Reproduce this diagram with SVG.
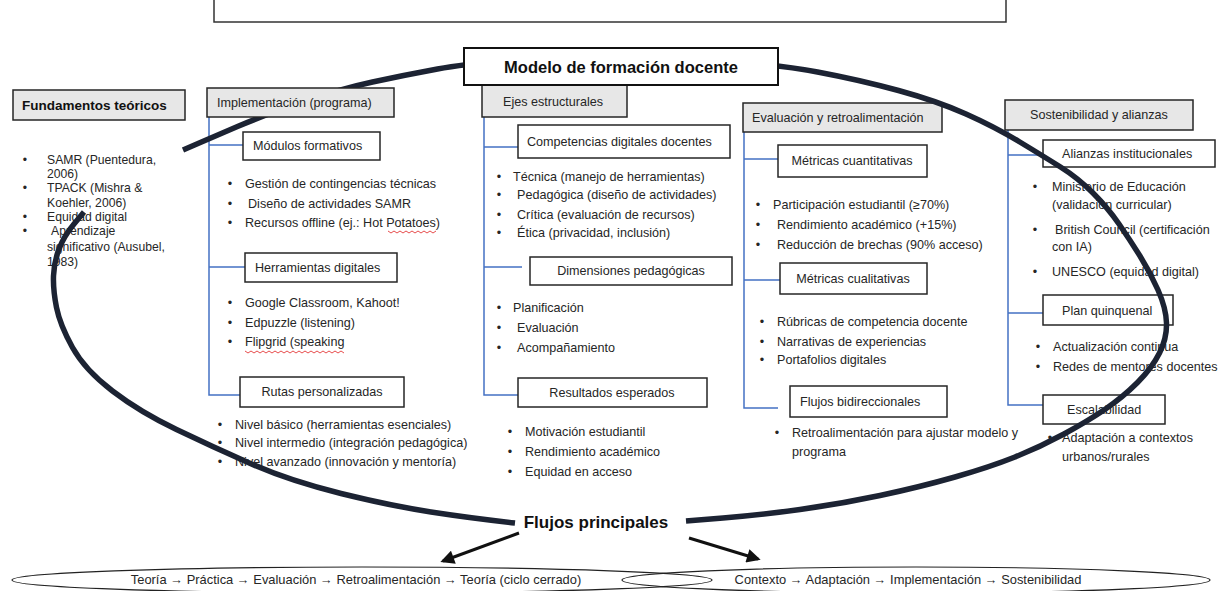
<svg xmlns="http://www.w3.org/2000/svg" width="1223" height="591" viewBox="0 0 1223 591">
<defs>
<style>
.hdr{fill:#e7e7e7;stroke:#262626;stroke-width:1.5}
.box{fill:#fff;stroke:#262626;stroke-width:1.5}
.t{font-family:"Liberation Sans",Arial,sans-serif;font-size:12.6px;fill:#262626}
.s{font-size:12.2px}
.f{font-size:12.9px}
.bt{font-family:"Liberation Sans",Arial,sans-serif;font-weight:bold;fill:#111}
.m{text-anchor:middle}
.tree{fill:none;stroke:#4472c4;stroke-width:1.5}
.cyc{fill:none;stroke:#1c2333;stroke-width:5.5}
.arr{stroke:#111;stroke-width:3;fill:none}
.ell{fill:none;stroke:#222;stroke-width:1.2}
.sq{fill:none;stroke:#e02020;stroke-width:0.8}
</style>
<marker id="ah" viewBox="0 0 10 10" refX="8" refY="5" markerWidth="5" markerHeight="4.6" orient="auto" markerUnits="strokeWidth">
<path d="M0,0 L10,5 L0,10 Z" fill="#111"/>
</marker>
</defs>
<rect width="1223" height="591" fill="#fff"/>

<g id="title-frame">
<path d="M214,0 V22 H1006 V0" fill="none" stroke="#333" stroke-width="1.5"/>
</g>

<g id="fundamentos">
<rect class="hdr" x="13" y="90" width="172" height="30"/>
<text class="bt" x="22" y="110" font-size="13.5">Fundamentos teóricos</text>
<g class="t s">
<text x="25" y="164" class="m">•</text><text x="47" y="164">SAMR (Puentedura,</text>
<text x="47" y="178">2006)</text>
<text x="25" y="192" class="m">•</text><text x="47" y="192">TPACK (Mishra &amp;</text>
<text x="47" y="207">Koehler, 2006)</text>
<text x="25" y="221" class="m">•</text><text x="47" y="221">Equidad digital</text>
<text x="25" y="235" class="m">•</text><text x="51" y="235">Aprendizaje</text>
<text x="47" y="251">significativo (Ausubel,</text>
<text x="47" y="266">1983)</text>
</g>
</g>

<g id="implementacion">
<path class="tree" d="M209,117 V395 H243 M209,145 H243 M209,267 H245"/>
<g class="t">
<text x="230" y="188" class="m">•</text><text x="245" y="188">Gestión de contingencias técnicas</text>
<text x="230" y="208" class="m">•</text><text x="248" y="208">Diseño de actividades SAMR</text>
<text x="230" y="227" class="m">•</text><text x="245" y="227">Recursos offline (ej.: Hot Potatoes)</text>
<text x="230" y="307" class="m">•</text><text x="245" y="307">Google Classroom, Kahoot!</text>
<text x="230" y="327" class="m">•</text><text x="245" y="327">Edpuzzle (listening)</text>
<text x="230" y="346" class="m">•</text><text x="245" y="346">Flipgrid (speaking</text>
<text x="220" y="429" class="m">•</text><text x="235" y="429">Nivel básico (herramientas esenciales)</text>
<text x="220" y="447" class="m">•</text><text x="235" y="447">Nivel intermedio (integración pedagógica)</text>
<text x="220" y="466" class="m">•</text><text x="235" y="466">Nivel avanzado (innovación y mentoría)</text>
</g>
<path class="sq" d="M388,231 l3,2 l3,-2 l3,2 l3,-2 l3,2 l3,-2 l3,2 l3,-2 l3,2 l3,-2 l3,2 l3,-2 l3,2 l3,-2 l3,2 l3,-2"/>
<path class="sq" d="M245,351 l3,2 l3,-2 l3,2 l3,-2 l3,2 l3,-2 l3,2 l3,-2 l3,2 l3,-2 l3,2 l3,-2 l3,2 l3,-2 l3,2 l3,-2 l3,2 l3,-2 l3,2 l3,-2 l3,2 l3,-2 l3,2 l3,-2 l3,2 l3,-2 l3,2 l3,-2 l3,2 l3,-2 l3,2 l3,-2 l3,2"/>
<g id="modulos"><rect class="box" x="243" y="132" width="137" height="28"/><text class="t" x="253" y="150">Módulos formativos</text></g>
<g id="herramientas"><rect class="box" x="245" y="253" width="152" height="29"/><text class="t" x="255" y="272">Herramientas digitales</text></g>
<g id="rutas"><rect class="box" x="240" y="377" width="164" height="30"/><text class="t m" x="322" y="396">Rutas personalizadas</text></g>
</g>

<g id="ejes">
<path class="tree" d="M484,117 V395 H518 M484,147 H518 M484,267 H522"/>
<rect class="hdr" x="482" y="85" width="145" height="32"/>
<text class="t" x="503" y="106">Ejes estructurales</text>
<g class="t">
<text x="499" y="181" class="m">•</text><text x="513" y="181">Técnica (manejo de herramientas)</text>
<text x="499" y="199" class="m">•</text><text x="517" y="199">Pedagógica (diseño de actividades)</text>
<text x="499" y="219" class="m">•</text><text x="517" y="219">Crítica (evaluación de recursos)</text>
<text x="499" y="237" class="m">•</text><text x="517" y="237">Ética (privacidad, inclusión)</text>
<text x="499" y="312" class="m">•</text><text x="513" y="312">Planificación</text>
<text x="499" y="332" class="m">•</text><text x="517" y="332">Evaluación</text>
<text x="499" y="352" class="m">•</text><text x="517" y="352">Acompañamiento</text>
<text x="510" y="436" class="m">•</text><text x="525" y="436">Motivación estudiantil</text>
<text x="510" y="456" class="m">•</text><text x="525" y="456">Rendimiento académico</text>
<text x="510" y="476" class="m">•</text><text x="525" y="476">Equidad en acceso</text>
</g>
<g id="competencias"><rect class="box" x="518" y="125" width="212" height="33"/><text class="t" x="527" y="146">Competencias digitales docentes</text></g>
<g id="dimensiones"><rect class="box" x="530" y="257" width="202" height="28"/><text class="t m" x="631" y="275">Dimensiones pedagógicas</text></g>
<g id="resultados"><rect class="box" x="518" y="378" width="189" height="29"/><text class="t m" x="612" y="397">Resultados esperados</text></g>
</g>

<g id="evaluacion">
<path class="tree" d="M744,132 V408 H778 M744,159 H778 M744,280 H782"/>
<rect class="hdr" x="743" y="103" width="199" height="29"/>
<text class="t" x="752" y="122">Evaluación y retroalimentación</text>
<g class="t">
<text x="758" y="209" class="m">•</text><text x="773" y="209">Participación estudiantil (≥70%)</text>
<text x="758" y="229" class="m">•</text><text x="777" y="229">Rendimiento académico (+15%)</text>
<text x="758" y="249" class="m">•</text><text x="777" y="249">Reducción de brechas (90% acceso)</text>
<text x="762" y="326" class="m">•</text><text x="777" y="326">Rúbricas de competencia docente</text>
<text x="762" y="346" class="m">•</text><text x="777" y="346">Narrativas de experiencias</text>
<text x="762" y="364" class="m">•</text><text x="777" y="364">Portafolios digitales</text>
<text x="777" y="437" class="m">•</text><text x="792" y="437">Retroalimentación para ajustar modelo y</text>
<text x="792" y="456">programa</text>
</g>
<g id="cuantitativas"><rect class="box" x="778" y="145" width="149" height="32"/><text class="t m" x="852" y="165">Métricas cuantitativas</text></g>
<g id="cualitativas"><rect class="box" x="780" y="263" width="147" height="31"/><text class="t m" x="853" y="283">Métricas cualitativas</text></g>
<g id="bidireccionales"><rect class="box" x="790" y="386" width="157" height="31"/><text class="t" x="800" y="406">Flujos bidireccionales</text></g>
</g>

<g id="sostenibilidad">
<path class="tree" d="M1008,130 V405 H1043 M1008,155 H1043 M1008,313 H1043"/>
<rect class="hdr" x="1005" y="100" width="188" height="30"/>
<text class="t" x="1030" y="119">Sostenibilidad y alianzas</text>
<g class="t">
<text x="1035" y="191" class="m">•</text><text x="1052" y="191">Ministerio de Educación</text>
<text x="1052" y="209">(validación curricular)</text>
<text x="1035" y="234" class="m">•</text><text x="1055" y="234">British Council (certificación</text>
<text x="1052" y="251">con IA)</text>
<text x="1035" y="276" class="m">•</text><text x="1052" y="276">UNESCO (equidad digital)</text>
<text x="1038" y="351" class="m">•</text><text x="1053" y="351">Actualización continua</text>
<text x="1038" y="371" class="m">•</text><text x="1053" y="371">Redes de mentores docentes</text>
<text x="1050" y="442" class="m">•</text><text x="1062" y="442">Adaptación a contextos</text>
<text x="1062" y="461">urbanos/rurales</text>
</g>
<g id="alianzas"><rect class="box" x="1043" y="140" width="172" height="27"/><text class="t" x="1062" y="158">Alianzas institucionales</text></g>
<g id="plan"><rect class="box" x="1043" y="295" width="130" height="30"/><text class="t" x="1062" y="315">Plan quinquenal</text></g>
<g id="escalabilidad"><rect class="box" x="1043" y="395" width="122" height="29"/><text class="t" x="1067" y="414">Escalabilidad</text></g>
</g>

<g id="connectors">
<path class="cyc" d="M84,212 L74,224 Q64,236 59,249 Q54,262 53.5,276 Q53,290 56.5,307.5 Q60,325 72.5,347.5 Q85,370 112.5,391 Q140,412 176.5,429.5 Q213,447 251.5,464 Q290,481 341,493.5 Q392,506 431,512 Q470,518 515,523"/>
<path class="cyc" d="M183,150 L198,143.5 Q213,137 237.5,126.5 Q262,116 301,102.5 Q340,89 372.5,82 Q405,75 437.5,69 Q470,63 545,57.5 Q620,52 697.5,58 Q775,64 817.5,72 Q860,80 898.5,90.5 Q937,101 966,114 Q995,127 1019,141.5 Q1043,156 1060.5,167 Q1078,178 1093,193 Q1108,208 1119,224 Q1130,240 1140,256 Q1150,272 1158,290 Q1166,308 1166.5,323 Q1167,338 1159.5,353 Q1152,368 1137.5,382.5 Q1123,397 1105.5,409 Q1088,421 1064,434 Q1040,447 1015,457 Q990,467 955,477 Q920,487 880,495.5 Q840,504 800,509.5 Q760,515 723,518 L686,521"/>
<line class="arr" x1="519" y1="533" x2="443" y2="561" marker-end="url(#ah)"/>
<line class="arr" x1="689" y1="538" x2="758" y2="559" marker-end="url(#ah)"/>
</g>

<g id="implementacion-header">
<rect class="hdr" x="207" y="88" width="187" height="29"/>
<text class="t" x="217" y="107">Implementación (programa)</text>
</g>

<g id="modelo">
<rect x="464" y="48" width="314" height="37" fill="#fff" stroke="#111" stroke-width="2"/>
<text class="bt m" x="621" y="73" font-size="16.5">Modelo de formación docente</text>
</g>

<g id="flujos">
<text class="bt m" x="596" y="528" font-size="17">Flujos principales</text>
</g>

<g id="ciclo-cerrado">
<ellipse class="ell" cx="362" cy="580" rx="350" ry="13"/>
<text class="t f m" x="356" y="584">Teoría → Práctica → Evaluación → Retroalimentación → Teoría (ciclo cerrado)</text>
</g>
<g id="contexto">
<ellipse class="ell" cx="916" cy="580" rx="294" ry="13"/>
<text class="t f m" x="908" y="584">Contexto → Adaptación → Implementación → Sostenibilidad</text>
</g>
</svg>
